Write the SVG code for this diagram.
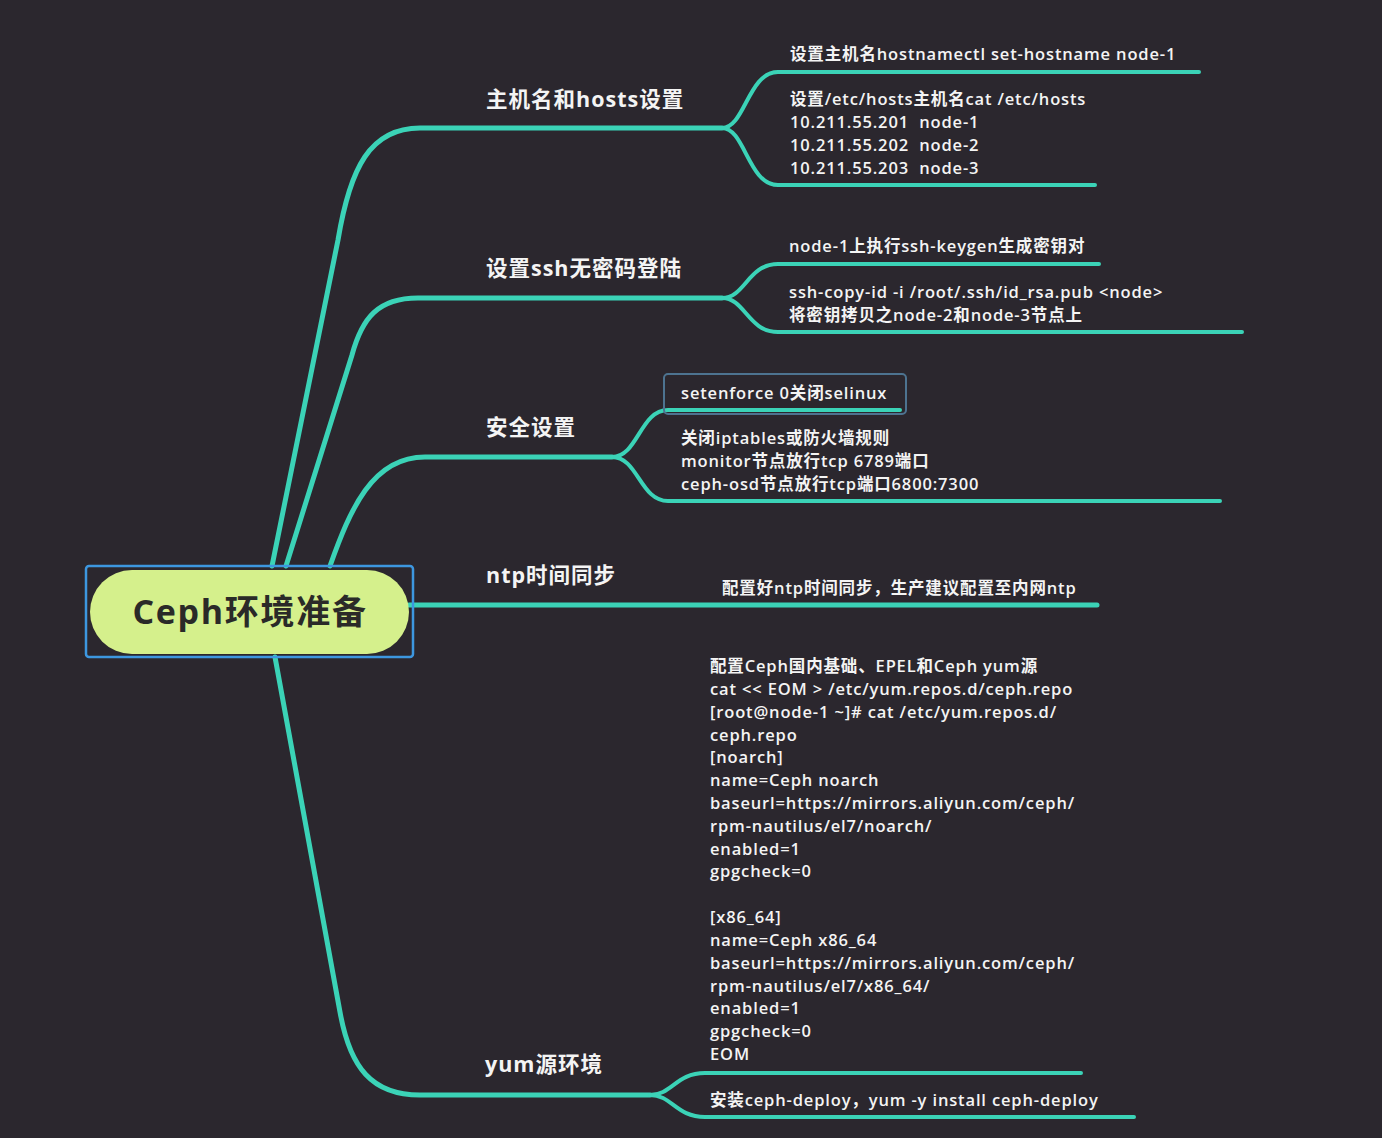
<svg xmlns="http://www.w3.org/2000/svg" width="1382" height="1138" viewBox="0 0 1382 1138">
<style>
.bg{fill:#2b272e}
.main{fill:none;stroke:#3bd3b7;stroke-width:5;stroke-linecap:round}
.sub{fill:none;stroke:#3bd3b7;stroke-width:4;stroke-linecap:round}
.lbl{font-family:"Open Sans","Noto Sans CJK SC",sans-serif;font-weight:700;font-size:21.5px;fill:#f4f4f4;letter-spacing:1px}
.txt{font-family:"Open Sans","Noto Sans CJK SC",sans-serif;font-weight:600;font-size:16.5px;fill:#f4f4f4;letter-spacing:0.85px;white-space:pre}
.root{font-family:"Open Sans","Noto Sans CJK SC",sans-serif;font-weight:700;font-size:34px;fill:#2a2a28;letter-spacing:1.7px}
</style>
<rect class="bg" x="0" y="0" width="1382" height="1138"/>
<g id="connectors">
  <path class="main" d="M272,566 L338,240 C350,168 370,128 420,128 L722,128"/>
  <path class="main" d="M286,566 L352,355 C362,318 378,298 418,298 L722,298"/>
  <path class="main" d="M330,566 C350,510 372,457 425,457 L612,457"/>
  <path class="main" d="M409,605 L1097,605"/>
  <path class="main" d="M275,657 L340,1012 C350,1068 372,1095 420,1095 L650,1095"/>
  <path class="sub" d="M722,128 C745,128 748,72 778,72 L1199,72"/>
  <path class="sub" d="M722,128 C745,128 748,185 778,185 L1095,185"/>
  <path class="sub" d="M722,298 C745,298 748,264 778,264 L1099,264"/>
  <path class="sub" d="M722,298 C745,298 748,332 778,332 L1242,332"/>
  <path class="sub" d="M612,457 C638,457 640,410 668,410 L900,410"/>
  <path class="sub" d="M612,457 C638,457 640,501 668,501 L1220,501"/>
  <path class="sub" d="M650,1095 C672,1095 676,1073 705,1073 L1081,1073"/>
  <path class="sub" d="M650,1095 C672,1095 676,1117 705,1117 L1134,1117"/>
</g>
<g id="root">
  <rect x="86" y="566" width="327" height="91" rx="3" fill="none" stroke="#3d97e0" stroke-width="2.5"/>
  <rect x="90" y="570" width="319" height="84" rx="42" fill="#d5f08c"/>
  <text class="root" x="250" y="624" text-anchor="middle">Ceph环境准备</text>
</g>
<g id="hosts">
  <text class="lbl" x="486" y="107">主机名和hosts设置</text>
</g>
<g id="hosts-1">
  <text class="txt" x="790" y="60">设置主机名hostnamectl set-hostname node-1</text>
</g>
<g id="hosts-2">
  <text class="txt" x="790" y="105">设置/etc/hosts主机名cat /etc/hosts</text>
  <text class="txt" x="790" y="128">10.211.55.201  node-1</text>
  <text class="txt" x="790" y="151">10.211.55.202  node-2</text>
  <text class="txt" x="790" y="174">10.211.55.203  node-3</text>
</g>
<g id="ssh">
  <text class="lbl" x="486" y="276">设置ssh无密码登陆</text>
</g>
<g id="ssh-1">
  <text class="txt" x="789" y="252">node-1上执行ssh-keygen生成密钥对</text>
</g>
<g id="ssh-2">
  <text class="txt" x="789" y="298">ssh-copy-id -i /root/.ssh/id_rsa.pub &lt;node&gt;</text>
  <text class="txt" x="789" y="321">将密钥拷贝之node-2和node-3节点上</text>
</g>
<g id="security">
  <text class="lbl" x="486" y="435">安全设置</text>
</g>
<g id="security-1">
  <rect x="664" y="374" width="242" height="40" rx="4" fill="none" stroke="#4d7390" stroke-width="2"/>
  <text class="txt" x="681" y="399">setenforce 0关闭selinux</text>
</g>
<g id="security-2">
  <text class="txt" x="681" y="444">关闭iptables或防火墙规则</text>
  <text class="txt" x="681" y="467">monitor节点放行tcp 6789端口</text>
  <text class="txt" x="681" y="490">ceph-osd节点放行tcp端口6800:7300</text>
</g>
<g id="ntp">
  <text class="lbl" x="486" y="583">ntp时间同步</text>
</g>
<g id="ntp-1">
  <text class="txt" x="722" y="594">配置好ntp时间同步，生产建议配置至内网ntp</text>
</g>
<g id="yum">
  <text class="lbl" x="485" y="1072">yum源环境</text>
</g>
<g id="yum-1">
  <text class="txt" x="710" y="672">配置Ceph国内基础、EPEL和Ceph yum源</text>
  <text class="txt" x="710" y="695">cat &lt;&lt; EOM &gt; /etc/yum.repos.d/ceph.repo</text>
  <text class="txt" x="710" y="718">[root@node-1 ~]# cat /etc/yum.repos.d/</text>
  <text class="txt" x="710" y="741">ceph.repo</text>
  <text class="txt" x="710" y="763">[noarch]</text>
  <text class="txt" x="710" y="786">name=Ceph noarch</text>
  <text class="txt" x="710" y="809">baseurl=https://mirrors.aliyun.com/ceph/</text>
  <text class="txt" x="710" y="832">rpm-nautilus/el7/noarch/</text>
  <text class="txt" x="710" y="855">enabled=1</text>
  <text class="txt" x="710" y="877">gpgcheck=0</text>
  <text class="txt" x="710" y="923">[x86_64]</text>
  <text class="txt" x="710" y="946">name=Ceph x86_64</text>
  <text class="txt" x="710" y="969">baseurl=https://mirrors.aliyun.com/ceph/</text>
  <text class="txt" x="710" y="992">rpm-nautilus/el7/x86_64/</text>
  <text class="txt" x="710" y="1014">enabled=1</text>
  <text class="txt" x="710" y="1037">gpgcheck=0</text>
  <text class="txt" x="710" y="1060">EOM</text>
</g>
<g id="yum-2">
  <text class="txt" x="710" y="1106">安装ceph-deploy，yum -y install ceph-deploy</text>
</g>
</svg>
